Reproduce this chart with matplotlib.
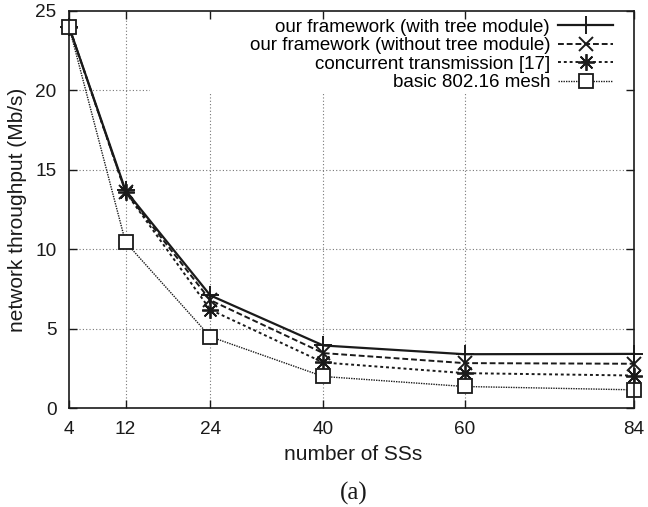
import matplotlib
matplotlib.use("Agg")
import matplotlib.pyplot as plt
from matplotlib.patches import Rectangle

x_vals = [4, 12, 24, 40, 60, 84]
with_tree = [24.0, 13.7, 7.1, 3.95, 3.4, 3.42]
without_tree = [24.0, 13.6, 6.8, 3.47, 2.84, 2.8]
concurrent = [24.0, 13.6, 6.2, 2.88, 2.21, 2.06]
basic = [24.0, 10.45, 4.5, 2.0, 1.37, 1.16]
labels = ["our framework (with tree module)",
          "our framework (without tree module)",
          "concurrent transmission [17]",
          "basic 802.16 mesh"]
xticks = [4, 12, 24, 40, 60, 84]
yticks = [0, 5, 10, 15, 20, 25]

plt.rcParams['font.family'] = ['Liberation Sans', 'DejaVu Sans']
tick_fs = 13.7
label_fs = 15
leg_fs = 13.5

fig = plt.figure(figsize=(6.48, 5.07), dpi=100)
ax = fig.add_axes([0.1065, 0.1947, 0.8719, 0.7842])

c = "#1a1a1a"
ax.set_xlim(4, 84)
ax.set_ylim(0, 25)

# grid lines (below a blank key area, like gnuplot)
for xv in xticks[1:-1]:
    ax.axvline(xv, color='#777777', ls=(0, (1, 2)), lw=0.8, zorder=0.5)
for yv in yticks[1:-1]:
    ax.axhline(yv, color='#777777', ls=(0, (1, 2)), lw=0.8, zorder=0.5)
ax.add_patch(Rectangle((15.47, 19.9), 84 - 15.47, 25 - 19.9, facecolor='white',
                       edgecolor='none', zorder=1))

ax.plot(x_vals, with_tree, color=c, lw=1.6, ls='-', marker='+', ms=13, mew=1.4,
        label=labels[0], zorder=4, clip_on=False)
ax.plot(x_vals, without_tree, color=c, lw=1.4, ls=(0, (3, 1.5)), marker='x', ms=10, mew=1.4,
        label=labels[1], zorder=4, clip_on=False)
ax.plot(x_vals, concurrent, color=c, lw=1.4, ls=(0, (1.5, 1.5)), marker=(8, 2, 0), ms=12, mew=1.3,
        label=labels[2], zorder=4, clip_on=False)
ax.plot(x_vals, basic, color=c, lw=1.0, ls=(0, (1, 0.8)), marker='s', ms=10, mew=1.3,
        mfc='white', mec=c, label=labels[3], zorder=4, clip_on=False)

ax.set_xticks(xticks)
ax.set_yticks(yticks)
ax.tick_params(direction='in', top=True, right=True, length=6, width=1,
               labelsize=tick_fs, pad=9, colors=c)
for s in ax.spines.values():
    s.set_linewidth(1.2)
    s.set_color(c)
    s.set_zorder(5)

ax.set_xlabel("number of SSs", fontsize=label_fs, color=c, va='top')
ax.xaxis.set_label_coords(0.503, -0.092)
ax.set_ylabel("network throughput (Mb/s)", fontsize=label_fs, color=c)
ax.yaxis.set_label_coords(-0.075, 0.5)

leg = ax.legend(loc='upper right', bbox_to_anchor=(0.963, 0.98), markerfirst=False,
                fontsize=leg_fs, frameon=False, handlelength=2.93, labelspacing=0.07,
                borderpad=0, borderaxespad=0, handletextpad=0.43)
leg.set_zorder(6)

fig.text(0.546, 0.0138, "(a)", fontsize=18, family=['Liberation Serif'], ha='center',
         va='baseline', color=c)

fig.savefig("out.png", dpi=100)
